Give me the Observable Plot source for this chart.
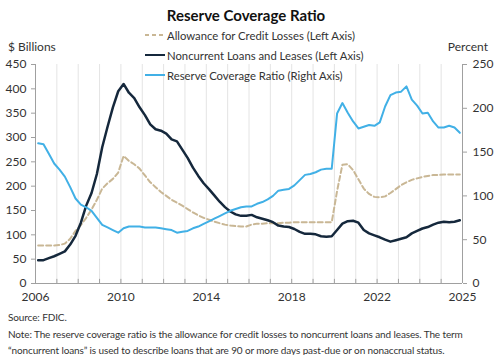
<!DOCTYPE html>
<html>
<head>
<meta charset="utf-8">
<script src="https://cdn.jsdelivr.net/npm/d3@7"></script>
<script src="https://cdn.jsdelivr.net/npm/@observablehq/plot@0.6"></script>
<style>
  html, body { margin: 0; padding: 0; background: #fff; }
  body { width: 504px; height: 355px; overflow: hidden; font-family: Lato, "Open Sans", sans-serif; color: #333; }
  #wrap { position: relative; width: 504px; height: 355px; }
  #chart { position: absolute; left: 0; top: 0; }
  .abs { position: absolute; white-space: nowrap; }
  #title { left: 0; width: 492px; top: 6px; text-align: center; font-weight: 700; font-size: 15px; color: #111; }
  .unit { font-size: 12px; top: 39px; color: #333; }
  .leg { left: 145px; font-size: 11.3px; color: #333; display: flex; align-items: center; height: 16px; }
  .leg svg { margin-right: 1px; }
  #foot { position: absolute; left: 8px; top: 309px; font-size: 10px; letter-spacing: -0.12px; line-height: 16.5px; color: #333; }
</style>
</head>
<body>
<div id="wrap">
  <div id="chart"></div>
  <div id="title" class="abs"></div>
  <div id="unitL" class="abs unit" style="left:8px"></div>
  <div id="unitR" class="abs unit" style="right:16px"></div>
  <div id="legend"></div>
  <div id="foot"></div>
</div>
<script>
// ---- Data (quarterly, 2006Q1 .. 2025Q4 positions) ----
const startYear = 2006;
const allowance = [
  78, 78, 78, 78,
  79, 82, 92, 108,
  120, 135, 152, 172,
  195, 206, 215, 228,
  262, 252, 245, 236,
  222, 208, 198, 188,
  180, 172, 166, 160,
  153, 146, 140, 135,
  131, 127, 124, 121,
  119, 118, 117, 117,
  121, 123, 123, 124,
  124, 124, 125, 125,
  126, 126, 126, 126,
  126, 126, 126, 126,
  190, 244, 245, 233,
  214, 195, 184, 178,
  177, 179, 186, 194,
  202, 208, 213, 216,
  219, 221, 223, 223,
  224, 224, 224, 224
];
const noncurrent = [
  48, 48, 52, 56,
  61, 66, 80, 98,
  125, 160, 186, 225,
  280, 322, 362, 395,
  410, 392, 381, 362,
  346, 327, 317, 314,
  308, 296, 292, 275,
  258, 238, 221, 206,
  194, 181, 168, 157,
  148, 142, 139, 139,
  141, 136, 133, 130,
  126, 119, 117, 116,
  112, 106, 102, 102,
  101, 97, 96, 97,
  110, 123, 128, 129,
  125, 110, 103, 99,
  95, 90, 86, 89,
  92, 95, 103, 108,
  113, 116, 121, 125,
  127, 126, 127, 130
];
const coverage = [
  160, 159, 148, 137,
  130, 122, 110, 97,
  90, 87, 83, 75,
  67, 64, 61, 58,
  63, 65, 65, 65,
  64, 64, 64, 63,
  62, 61, 58, 59,
  60, 63, 65, 68,
  71, 74, 77, 80,
  83, 85, 87, 88,
  88, 91, 93, 96,
  100, 106, 107, 108,
  112, 118, 124, 125,
  127, 130, 131, 131,
  194, 206, 195, 185,
  177, 179, 181, 180,
  184, 202, 215, 218,
  219, 225, 210, 203,
  194, 195, 185, 178,
  178, 180, 178, 172
];
const seriesNames = [
  "Allowance for Credit Losses (Left Axis)",
  "Noncurrent Loans and Leases (Left Axis)",
  "Reserve Coverage Ratio (Right Axis)"
];
const leftTicks = [0, 50, 100, 150, 200, 250, 300, 350, 400, 450];
const rightTicks = [0, 50, 100, 150, 200, 250];
const xLabelYears = [2006, 2010, 2014, 2018, 2022, 2026];
const xLabelText = ["2006", "2010", "2014", "2018", "2022", "2025"];
const titleText = "Reserve Coverage Ratio";
const leftUnit = "$ Billions";
const rightUnit = "Percent";
const sourceText = "Source: FDIC.";
const noteText = "Note: The reserve coverage ratio is the allowance for credit losses to noncurrent loans and leases. The term<br>\u201cnoncurrent loans\u201d is used to describe loans that are 90 or more days past-due or on nonaccrual status.";

// ---- Build ----
const colors = ["#c9b795", "#15283c", "#41b0e6"];
const k = 450 / 250; // right axis -> left axis
const rows = allowance.map((a, i) => ({
  t: startYear + 0.125 + 0.25 * i,
  allowance: a,
  noncurrent: noncurrent[i],
  coverage: coverage[i]
}));
const years = d3.range(2006, 2027);
const gridYears = d3.range(2007, 2026);

const chart = Plot.plot({
  width: 504,
  height: 306,
  marginLeft: 35,
  marginRight: 42,
  marginTop: 64,
  marginBottom: 23,
  style: { fontFamily: "Lato, 'Open Sans', sans-serif", fontSize: "12px", color: "#333", background: "transparent", overflow: "visible" },
  x: { domain: [2006, 2026] },
  y: { domain: [0, 450] },
  marks: [
    Plot.ruleX(gridYears, { stroke: "#e4e4e4", strokeWidth: 1 }),
    Plot.ruleX([2006, 2026], { stroke: "#a0a0a0", strokeWidth: 1 }),
    Plot.ruleY([0], { stroke: "#a0a0a0", strokeWidth: 1 }),
    Plot.ruleX(years, { y1: 0, y2: 8.5, stroke: "#a0a0a0", strokeWidth: 1 }),
    Plot.axisY(leftTicks, { anchor: "left", tickSize: 4, tickPadding: 5, stroke: "#a0a0a0", fill: "#333", fontSize: 12, label: null }),
    Plot.axisY(rightTicks.map(p => p * k), { anchor: "right", tickSize: 4, tickPadding: 6, stroke: "#a0a0a0", fill: "#333", fontSize: 12, label: null, tickFormat: d => String(Math.round(d / k)) }),
    Plot.axisX(xLabelYears, { anchor: "bottom", tickSize: 0, tickPadding: 9, fill: "#333", fontSize: 12, label: null, tickFormat: d => xLabelText[xLabelYears.indexOf(d)] }),
    Plot.line(rows, { x: "t", y: "allowance", stroke: colors[0], strokeWidth: 2, strokeDasharray: "5,3" }),
    Plot.line(rows, { x: "t", y: "noncurrent", stroke: colors[1], strokeWidth: 2.5 }),
    Plot.line(rows, { x: "t", y: d => d.coverage * k, stroke: colors[2], strokeWidth: 2 })
  ]
});
document.getElementById("chart").appendChild(chart);

document.getElementById("title").textContent = titleText;
document.getElementById("unitL").textContent = leftUnit;
document.getElementById("unitR").textContent = rightUnit;
document.getElementById("foot").innerHTML = sourceText + "<br>" + noteText;

const legend = document.getElementById("legend");
const legTops = [27, 47, 67];
seriesNames.forEach((name, i) => {
  const div = document.createElement("div");
  div.className = "abs leg";
  div.style.top = legTops[i] + "px";
  const dash = i === 0 ? 'stroke-dasharray="4,3"' : "";
  div.innerHTML = `<svg width="21" height="6"><line x1="0" y1="3" x2="20" y2="3" stroke="${colors[i]}" stroke-width="2" ${dash}/></svg><span>${name}</span>`;
  legend.appendChild(div);
});
</script>
</body>
</html>
